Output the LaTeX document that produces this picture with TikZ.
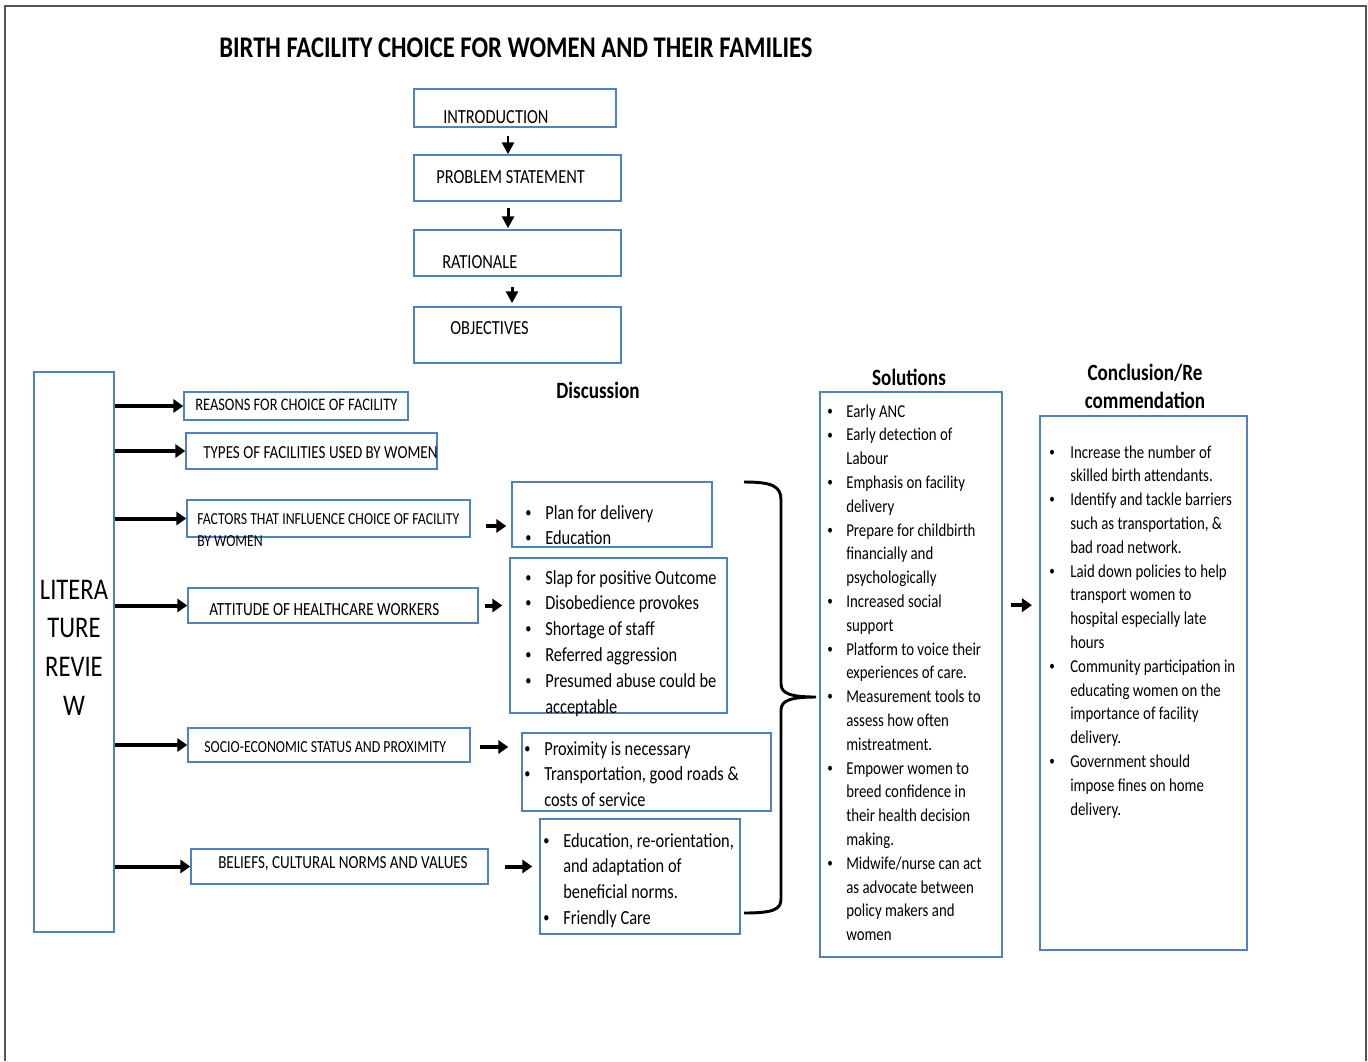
\documentclass[tikz,border=0pt]{standalone}
\usepackage{fontspec}
\setmainfont{Carlito}[FakeStretch=0.82]
\usetikzlibrary{arrows.meta,fit}

\definecolor{boxblue}{RGB}{79,129,189}
\definecolor{framegray}{RGB}{85,85,85}

\newcommand{\bul}{\raisebox{0.2ex}{\scalebox{0.75}{\textbullet}}}
\newcommand{\blist}[2]{\begin{tabular}[t]{@{}p{#1}@{}l@{}}#2\end{tabular}}

\begin{document}
\begin{tikzpicture}[
    x=0.75pt,
    y=-0.75pt,
    box/.style={
        draw=boxblue,
        line width=1.1pt,
        inner sep=0pt
    },
    toptext/.style={
        anchor=base west,
        inner sep=0pt,
        font=\fontsize{15}{18}\selectfont
    },
    topic/.style={
        anchor=base west,
        inner sep=0pt,
        font=\fontsize{#1}{16.5}\selectfont
    },
    topic/.default=13,
    listtext/.style={
        anchor=base west,
        inner sep=0pt,
        font=\fontsize{15}{19.4}\selectfont
    },
    sidelist/.style={
        anchor=base west,
        inner sep=0pt,
        font=\fontsize{13.6}{17.85}\selectfont
    },
    heading/.style={
        anchor=base,
        inner sep=0pt,
        font=\bfseries\fontsize{17.5}{21}\selectfont
    },
    fatarrow/.style={
        -{Triangle[length=7.5pt,width=10pt]},
        line width=3pt
    },
    thinarrow/.style={
        -{Triangle[length=9pt,width=9pt]},
        line width=2.2pt
    }
]
    \useasboundingbox (0,0) rectangle (1368,1061);

    % Rahmen
    \draw[framegray, line width=1.5pt] (5,1061) -- (5,6) -- (1366,6) -- (1366,1061);

    % Titel
    \node[anchor=base west, inner sep=0pt, font=\bfseries\fontsize{22.5}{27}\selectfont]
        (title) at (219,57) {BIRTH FACILITY CHOICE FOR WOMEN AND THEIR FAMILIES};

    % Kaesten
    \foreach \n/\xa/\ya/\xb/\yb in {
        intro/414/89/616/127, prob/414/155/621/201, rat/414/230/621/276, obj/414/307/621/363,
        lit/34/372/114/932,
        f1/184/392/408/420, f2/186/433/437/469, f3/187/500/470/537,
        f4/188/588/478/623, f5/188/728/470/762, f6/191/849/488/884,
        plan/512/482/712/547, slap/510/558/727/713, prox/522/733/771/811, edu/540/819/740/934,
        sol/820/392/1002/957
    }{
        \node[box, fit={(\xa,\ya) (\xb,\yb)}] (\n) {};
    }
    \node[box, line width=1.6pt, fit={(1040,416) (1247,950)}] (conc) {};

    % Einleitung
    \node[toptext] (tintro) at (443,123) {INTRODUCTION};
    \node[toptext] (tprob) at (436,183) {PROBLEM STATEMENT};
    \node[toptext] (trat) at (442,268) {RATIONALE};
    \node[toptext] (tobj) at (450,334) {OBJECTIVES};

    \draw[thinarrow, shorten <=6pt] ([xshift=-5.25pt]intro.south) -- ([xshift=-5.25pt]intro.south |- prob.north);
    \draw[thinarrow, shorten <=4.5pt, shorten >=0.75pt] ([xshift=-7.1pt]prob.south) -- ([xshift=-7.1pt]prob.south |- rat.north);
    \draw[thinarrow, shorten <=7.5pt, shorten >=2.25pt] ([xshift=-4.1pt]rat.south) -- ([xshift=-4.1pt]rat.south |- obj.north);

    % Literatur
    \node[anchor=base, inner sep=0pt, font=\fontsize{22.5}{29}\selectfont] (tlit) at (74,599)
        {\begin{tabular}[t]{@{}c@{}}LITERA\\TURE\\REVIE\\W\end{tabular}};

    \node[topic=13.2] (t1) at (195,410) {REASONS FOR CHOICE OF FACILITY};
    \node[topic=13.8] (t2) at (203,458) {TYPES OF FACILITIES USED BY WOMEN};
    \node[topic=12.6] (t3) at (197,524)
        {\begin{tabular}[t]{@{}l@{}}FACTORS THAT INFLUENCE CHOICE OF FACILITY\\BY WOMEN\end{tabular}};
    \node[topic=13.9] (t4) at (209,615) {ATTITUDE OF HEALTHCARE WORKERS};
    \node[topic=12.65] (t5) at (204,752) {SOCIO-ECONOMIC STATUS AND PROXIMITY};
    \node[topic=13.8] (t6) at (218,868) {BELIEFS, CULTURAL NORMS AND VALUES};

    \foreach \n in {f1,f2,f3,f4,f5,f6}{
        \draw[fatarrow] (lit.east |- \n.west) -- (\n.west);
    }

    % Diskussion
    \node[heading] (tdisc) at (598,398) {Discussion};

    \node[listtext] (lplan) at (525,519) {\blist{15pt}{
        \bul & Plan for delivery\\
        \bul & Education}};
    \node[listtext] (lslap) at (525,584) {\blist{15pt}{
        \bul & Slap for positive Outcome\\
        \bul & Disobedience provokes\\
        \bul & Shortage of staff\\
        \bul & Referred aggression\\
        \bul & Presumed abuse could be\\
             & acceptable}};
    \node[listtext] (lprox) at (524,755) {\blist{15pt}{
        \bul & Proximity is necessary\\
        \bul & Transportation, good roads \&\\
             & costs of service}};
    \node[listtext] (ledu) at (543,847) {\blist{15pt}{
        \bul & Education, re-orientation,\\
             & and adaptation of\\
             & beneficial norms.\\
        \bul & Friendly Care}};

    \draw[fatarrow, shorten <=11.25pt, shorten >=3.75pt] ([yshift=-5.6pt]f3.east) -- ([yshift=-5.6pt]f3.east -| plan.west);
    \draw[fatarrow, shorten <=4.5pt, shorten >=5.25pt] (f4.east) -- (f4.east -| slap.west);
    \draw[fatarrow, shorten <=6.75pt, shorten >=9.75pt] ([yshift=-1.5pt]f5.east) -- ([yshift=-1.5pt]f5.east -| prox.west);
    \draw[fatarrow, shorten <=12pt, shorten >=5.25pt] (f6.east) -- (f6.east -| edu.west);

    % Klammer
    \draw[line width=2.2pt] (744,482) .. controls (772,482) and (781,486) .. (781,500)
        -- (781,684) .. controls (781,694) and (792,697) .. (816,697)
        .. controls (792,697) and (781,700) .. (781,710)
        -- (781,899) .. controls (781,910) and (772,913) .. (744,913);

    % Loesungen
    \node[heading] (tsol) at (909,385) {Solutions};
    \node[sidelist] (lsol) at (827,417) {\blist{14.25pt}{
        \bul & Early ANC\\
        \bul & Early detection of\\
             & Labour\\
        \bul & Emphasis on facility\\
             & delivery\\
        \bul & Prepare for childbirth\\
             & financially and\\
             & psychologically\\
        \bul & Increased social\\
             & support\\
        \bul & Platform to voice their\\
             & experiences of care.\\
        \bul & Measurement tools to\\
             & assess how often\\
             & mistreatment.\\
        \bul & Empower women to\\
             & breed confidence in\\
             & their health decision\\
             & making.\\
        \bul & Midwife/nurse can act\\
             & as advocate between\\
             & policy makers and\\
             & women}};

    \draw[fatarrow, shorten <=6pt, shorten >=5.25pt] ([yshift=52pt]sol.east) -- ([yshift=52pt]sol.east -| conc.west);

    % Schluss
    \node[heading] (tconc) at (1145,380)
        {\begin{tabular}[t]{@{}c@{}}Conclusion/Re\\commendation\end{tabular}};
    \node[sidelist] (lconc) at (1049,458) {\blist{15.75pt}{
        \bul & Increase the number of\\
             & skilled birth attendants.\\
        \bul & Identify and tackle barriers\\
             & such as transportation, \&\\
             & bad road network.\\
        \bul & Laid down policies to help\\
             & transport women to\\
             & hospital especially late\\
             & hours\\
        \bul & Community participation in\\
             & educating women on the\\
             & importance of facility\\
             & delivery.\\
        \bul & Government should\\
             & impose fines on home\\
             & delivery.}};

\end{tikzpicture}
\end{document}
